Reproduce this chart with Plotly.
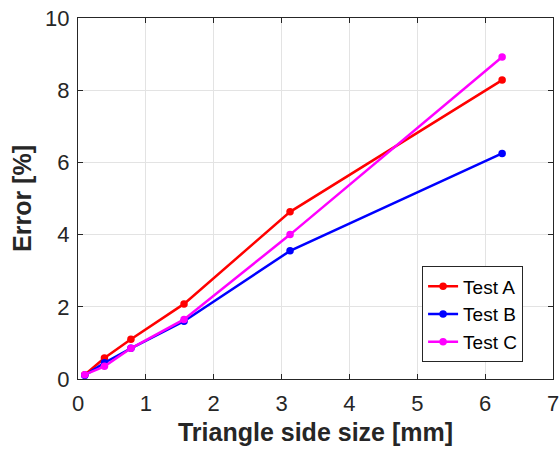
import plotly.graph_objects as go

sizes = [0.1, 0.39, 0.78, 1.5625, 3.125, 6.25]
test_a = [0.12, 0.58, 1.1, 2.08, 4.63, 8.28]
test_b = [0.1, 0.45, 0.85, 1.6, 3.55, 6.25]
test_c = [0.12, 0.35, 0.85, 1.65, 4.0, 8.92]
names = ["Test A", "Test B", "Test C"]
colors = ["#ff0000", "#0000ff", "#ff00ff"]

FONT = "Liberation Sans, Arial"

fig = go.Figure()
for name, ys, c in zip(names, [test_a, test_b, test_c], colors):
    fig.add_trace(go.Scatter(x=sizes, y=ys, name=name, mode="lines+markers",
                             line=dict(color=c, width=2.5),
                             marker=dict(color=c, size=7.5)))

axis_common = dict(showline=True, linecolor="#262626", linewidth=1, mirror="allticks",
                   ticks="inside", ticklen=5, tickcolor="#262626",
                   showgrid=True, gridcolor="#e3e3e3", gridwidth=1, zeroline=False,
                   automargin=False,
                   tickfont=dict(family=FONT, size=22, color="#262626"))

fig.update_layout(
    width=560, height=449,
    margin=dict(l=78, r=7, t=18, b=70),
    paper_bgcolor="white", plot_bgcolor="white",
    showlegend=True,
    legend=dict(x=0.937, y=0.046, xanchor="right", yanchor="bottom",
                bordercolor="#262626", borderwidth=1, bgcolor="white",
                font=dict(family=FONT, size=19, color="black"),
                tracegroupgap=0, itemwidth=30),
    xaxis=dict(range=[0, 7], dtick=1, ticklabelstandoff=5,
               title=dict(text="<b>Triangle side size [mm]</b>", standoff=8,
                          font=dict(family=FONT, size=25, color="#262626")),
               **axis_common),
    yaxis=dict(range=[0, 10], dtick=2, ticklabelstandoff=3,
               title=dict(text="<b>Error [%]</b>", standoff=6,
                          font=dict(family=FONT, size=25, color="#262626")),
               **axis_common),
)

fig.write_html("out.html")
